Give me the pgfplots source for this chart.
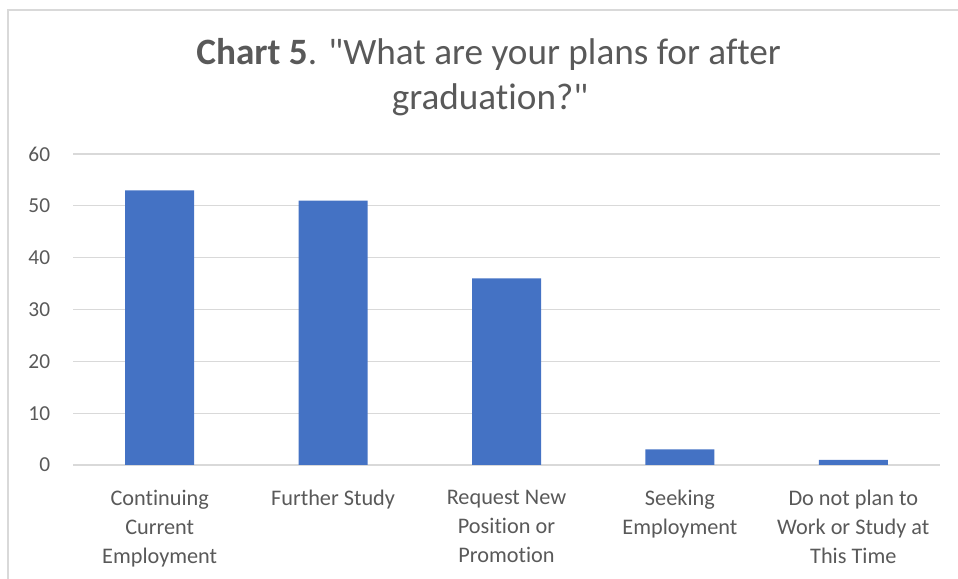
\documentclass[border=0pt]{standalone}
\usepackage{pgfplots}
\pgfplotsset{compat=1.18}
\usepackage{fontspec}
\setmainfont{Carlito}[Ligatures={TeXOff,NoCommon}]
\definecolor{txt}{HTML}{595959}
\definecolor{gridc}{HTML}{D9D9D9}
\definecolor{barc}{HTML}{4472C4}
\begin{document}
\begin{tikzpicture}
\useasboundingbox (0,0) rectangle (718.5pt,434.25pt);
\draw[gridc, line width=0.9pt] (6pt,0) -- (6pt,426.75pt) -- (718.5pt,426.75pt);
\node[anchor=base, text=txt, font=\fontsize{27.9}{34}\selectfont, inner sep=0pt] at (366.5pt,386pt) {\textbf{Chart 5}. "What are your plans for after};
\node[anchor=base, text=txt, font=\fontsize{27.9}{34}\selectfont, inner sep=0pt] at (367.5pt,352pt) {graduation?"};
\begin{axis}[
  at={(54.75pt,85.5pt)}, anchor=south west,
  scale only axis, width=650.25pt, height=233.25pt,
  xmin=-0.5, xmax=4.5, ymin=0, ymax=60,
  ytick={0,10,...,60},
  xtick={0,1,2,3,4},
  xticklabels={{Continuing\\Current\\Employment},{Further Study},{Request New\\Position or\\Promotion},{Seeking\\Employment},{Do not plan to\\Work or Study at\\This Time}},
  major tick length=0pt,
  axis line style={draw=none},
  ymajorgrids, grid style={gridc, line width=0.9pt},
  yticklabel style={text=txt, font=\fontsize{16}{19}\selectfont, inner sep=0pt, anchor=east, xshift=-17pt},
  xticklabel style={text=txt, font=\fontsize{16.7}{21.75}\selectfont, inner sep=0pt, anchor=north, align=center, yshift=-18.75pt},
  /pgf/number format/assume math mode=true,
  clip=false,
]
\addplot[ybar, bar width=51.75pt, fill=barc, draw=none] coordinates {(0,53) (1,51) (2,36) (3,3) (4,1)};
\end{axis}
\end{tikzpicture}
\end{document}
